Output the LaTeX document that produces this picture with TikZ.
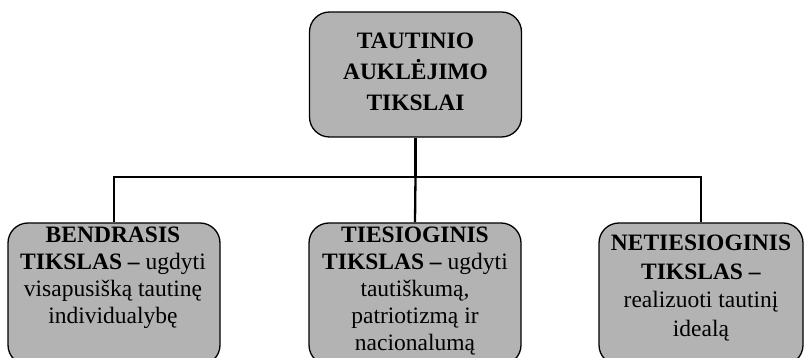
\documentclass[tikz,border=0pt]{standalone}
\usepackage{fontspec}
\setmainfont{Liberation Serif}
\definecolor{boxgray}{RGB}{179,179,179}
\tikzset{
  goalbox/.style={draw=black, line width=1.3pt, fill=boxgray, rounded corners=20pt, inner sep=0pt},
  goaltext/.style={align=center, inner sep=0pt, anchor=north, font=\fontsize{23.5}{27}\selectfont},
  link/.style={line width=2.3pt}
}
\begin{document}
\begin{tikzpicture}[x=1pt,y=-1pt]
\useasboundingbox (0,0) rectangle (804,358);
% boxes
\node[goalbox, minimum width=212pt, minimum height=125pt] (top) at (415.5,74.5) {};
\node[goalbox, minimum width=212pt, minimum height=142pt] (left) at (114,294) {};
\node[goalbox, minimum width=212pt, minimum height=142pt] (mid) at (415,294) {};
\node[goalbox, minimum width=204pt, minimum height=142pt] (right) at (701,294) {};
% texts
\node[goaltext, font=\fontsize{23.5}{31}\selectfont\bfseries] (toptext) at (415.5,33) {TAUTINIO\\AUKLĖJIMO\\TIKSLAI};
\node[goaltext] (lefttext) at (113,227) {\textbf{BENDRASIS}\\\textbf{TIKSLAS –} ugdyti\\visapusišką tautinę\\individualybę};
\node[goaltext] (midtext) at (415,227) {\textbf{TIESIOGINIS}\\\textbf{TIKSLAS –} ugdyti\\tautiškumą,\\patriotizmą ir\\nacionalumą};
\node[goaltext, font=\fontsize{23.5}{28.5}\selectfont] (righttext) at (701,235) {\textbf{NETIESIOGINIS}\\\textbf{TIKSLAS –}\\realizuoti tautinį\\idealą};
% connectors
\coordinate (j) at (415.5,177);
\draw[link] (top.south) -- (j);
\draw[link] (left.north) |- (j) -| (right.north);
\draw[link] (j) -- (mid.north);
\end{tikzpicture}
\end{document}
